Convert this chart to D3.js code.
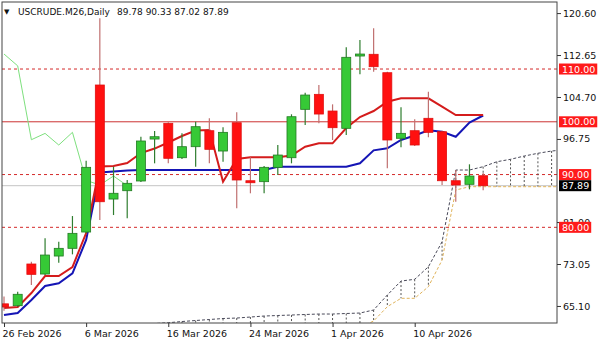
<!DOCTYPE html>
<html>
<head>
<meta charset="utf-8">
<script src="https://cdn.jsdelivr.net/npm/d3@7"></script>
<style>
  body { margin: 0; background: #fff; }
  svg { display: block; font-family: "DejaVu Sans", sans-serif; }
</style>
</head>
<body>
<svg id="chart" width="600" height="343"></svg>
<script>
// datos (velas diarias)
const opens  = [65.5, 65.15, 73.05, 71.15, 74.56, 76.02, 79.11, 106.97, 85.36, 86.94, 88.78, 96.73, 99.71, 93.19, 95.28, 98.31, 94.46, 99.82, 88.83, 88.65, 91.37, 93.19, 102.36, 105.2, 102.04, 98.76, 112.65, 112.79, 109.3, 96.87, 98.31, 100.66, 98.12, 88.83, 88.15, 89.78];
const highs  = [66.9, 67.8, 73.48, 77.92, 77.27, 82.14, 92.62, 119.6, 91.49, 88.97, 97.17, 98.25, 99.9, 97.81, 100.01, 100.66, 98.95, 101.79, 93.27, 91.62, 95.6, 101.42, 105.51, 106.97, 103.31, 114.11, 115.5, 117.71, 109.5, 102.74, 100.47, 105.7, 98.3, 90.86, 91.94, 90.33];
const lows   = [64.2, 64.96, 69.07, 70.96, 73.29, 74.88, 78.86, 81.38, 82.33, 81.71, 88.6, 92.13, 92.13, 92.95, 91.49, 92.13, 92.43, 83.6, 86.45, 86.45, 89.91, 92.13, 99.39, 99.71, 96.55, 97.49, 109.0, 109.49, 91.18, 95.16, 95.41, 97.06, 88.02, 84.85, 87.2, 87.02];
const closes = [64.9, 67.31, 71.09, 74.75, 76.02, 78.86, 91.37, 84.85, 86.45, 88.34, 96.36, 97.17, 93.08, 95.28, 99.07, 94.78, 98.0, 88.97, 88.45, 91.37, 93.7, 100.96, 105.07, 101.47, 98.88, 112.22, 112.84, 110.44, 96.55, 97.81, 95.6, 98.0, 88.83, 88.02, 89.72, 87.89];

// ichimoku: tenkan (rojo), kijun (azul), chikou (verde)
const tenkan = [64.71, 64.9, 67.55, 70.77, 70.77, 72.48, 78.92, 91.52, 91.62, 92.19, 94.08, 94.93, 96.07, 97.3, 98.35, 98.44, 88.64, 92.94, 93.27, 93.27, 93.27, 93.61, 95.28, 95.92, 95.92, 98.82, 100.9, 102.04, 103.8, 104.45, 104.45, 104.45, 102.86, 101.28, 101.28, 101.28];
const kijun  = [63.38, 63.76, 66.22, 68.88, 69.39, 71.28, 77.6, 90.39, 90.58, 90.77, 90.86, 90.86, 90.86, 90.86, 90.86, 90.86, 90.86, 90.86, 90.86, 90.86, 91.49, 91.49, 91.49, 91.49, 91.49, 91.49, 92.13, 94.59, 94.97, 96.55, 97.4, 98.38, 98.12, 97.17, 99.86, 101.19];
const chikou = [112.84, 110.6, 96.6, 97.8, 95.6, 98.0, 88.9, 88.02, 89.72, 87.89];

// nube (desplazada 26 barras), empieza en la barra 9
const spanStart = 9;
const spanA = [61.35, 61.58, 61.77, 61.92, 62.15, 62.34, 62.53, 62.72, 62.81, 63.0, 63.19, 63.29, 63.38, 63.48, 63.57, 63.57, 63.67, 63.76, 64.33, 67.17, 69.82, 70.15, 72.53, 77.27, 90.86, 90.86, 91.49, 92.43, 92.89, 93.51, 94.03, 94.46, 94.7];
const spanB = [58.4, 58.4, 58.6, 58.6, 58.8, 58.8, 59.0, 59.2, 59.2, 59.4, 59.6, 59.8, 60.0, 60.2, 60.4, 60.6, 60.8, 61.0, 62.25, 64.96, 66.55, 66.55, 68.75, 73.8, 87.07, 87.7, 87.7, 87.7, 87.7, 87.7, 87.7, 87.7, 87.7];

const dashedLevels = [110, 90, 80];
const solidLevels = [100];
const lastPrice = 87.89;

const yTickValues = [120.60, 112.65, 104.70, 96.75, 81.00, 73.05, 65.10];
const dateTicks = [0, 6, 12, 18, 24, 30];
const dateLabels = ["26 Feb 2026", "6 Mar 2026", "16 Mar 2026", "24 Mar 2026", "1 Apr 2026", "10 Apr 2026"];

const titulo = "USCRUDE.M26,Daily";
const ohlcTitulo = "89.78 90.33 87.02 87.89";

const bordeIzq = 2, bordeDer = 557, bordeSup = 2, bordeInf = 323;

const svg = d3.select("#chart");

const x = d3.scaleLinear().domain([0, 40]).range([4, 4 + 40 * 13.69]);
const y = d3.scaleLinear().domain([61.87, 122.70]).range([bordeInf, bordeSup]);

svg.append("defs").append("clipPath").attr("id", "zona")
  .append("rect")
  .attr("x", bordeIzq).attr("y", bordeSup)
  .attr("width", bordeDer - bordeIzq).attr("height", bordeInf - bordeSup);

const plot = svg.append("g").attr("clip-path", "url(#zona)");

// niveles horizontales
plot.selectAll(".nivel").data(dashedLevels).join("line")
  .attr("x1", bordeIzq).attr("x2", bordeDer)
  .attr("y1", d => y(d)).attr("y2", d => y(d))
  .attr("stroke", "#d42a2a").attr("stroke-width", 1)
  .attr("stroke-dasharray", "3,3");

plot.selectAll(".solido").data(solidLevels).join("line")
  .attr("x1", bordeIzq).attr("x2", bordeDer)
  .attr("y1", d => y(d)).attr("y2", d => y(d))
  .attr("stroke", "#cc3333").attr("stroke-width", 1);

plot.append("line")
  .attr("x1", bordeIzq).attr("x2", bordeDer)
  .attr("y1", y(lastPrice)).attr("y2", y(lastPrice))
  .attr("stroke", "#c4c4c4").attr("stroke-width", 1);

// nube
const idxSpan = spanA.map((d, i) => i + spanStart);
plot.selectAll(".rayita").data(idxSpan).join("line")
  .attr("x1", d => x(d)).attr("x2", d => x(d))
  .attr("y1", (d, i) => y(spanA[i])).attr("y2", (d, i) => y(spanB[i]))
  .attr("stroke", "#555").attr("stroke-width", 1)
  .attr("stroke-dasharray", "2,2");

const linea = d3.line().x(d => x(d[0])).y(d => y(d[1]));

plot.append("path")
  .attr("d", linea(spanB.map((v, i) => [i + spanStart, v])))
  .attr("fill", "none").attr("stroke", "#e0b35a").attr("stroke-width", 1)
  .attr("stroke-dasharray", "3,2");

plot.append("path")
  .attr("d", linea(spanA.map((v, i) => [i + spanStart, v])))
  .attr("fill", "none").attr("stroke", "#4a4a5a").attr("stroke-width", 1)
  .attr("stroke-dasharray", "3,2");

plot.append("path")
  .attr("d", linea(chikou.map((v, i) => [i, v])))
  .attr("fill", "none").attr("stroke", "#7ee07e").attr("stroke-width", 1);

plot.append("path")
  .attr("d", linea(kijun.map((v, i) => [i, v])))
  .attr("fill", "none").attr("stroke", "#1515b5").attr("stroke-width", 2);

plot.append("path")
  .attr("d", linea(tenkan.map((v, i) => [i, v])))
  .attr("fill", "none").attr("stroke", "#d41c1c").attr("stroke-width", 2);

// velas
const velas = opens.map((o, i) => ({ i, o, h: highs[i], l: lows[i], c: closes[i], sube: closes[i] >= o }));
const ancho = 9;

plot.selectAll(".mecha").data(velas).join("line")
  .attr("x1", d => x(d.i)).attr("x2", d => x(d.i))
  .attr("y1", d => y(d.h)).attr("y2", d => y(d.l))
  .attr("stroke", d => d.sube ? "#2f7d2f" : "#c07070")
  .attr("stroke-width", 1.2);

plot.selectAll(".cuerpo").data(velas).join("rect")
  .attr("x", d => x(d.i) - ancho / 2)
  .attr("y", d => y(Math.max(d.o, d.c)))
  .attr("width", ancho)
  .attr("height", d => Math.max(2, Math.abs(y(d.o) - y(d.c))))
  .attr("fill", d => d.sube ? "#36c936" : "#ff1010")
  .attr("stroke", d => d.sube ? "#237a23" : "#e01010")
  .attr("stroke-width", 0.8);

// marco
svg.append("rect")
  .attr("x", bordeIzq).attr("y", bordeSup)
  .attr("width", bordeDer - bordeIzq).attr("height", bordeInf - bordeSup)
  .attr("fill", "none").attr("stroke", "#444").attr("stroke-width", 1);

// ejes
const ejeY = svg.append("g")
  .attr("transform", `translate(${bordeDer},0)`)
  .call(d3.axisRight(y).tickValues(yTickValues).tickFormat(d3.format(".2f")).tickSize(4).tickSizeOuter(0));
ejeY.select(".domain").remove();
ejeY.selectAll("line").attr("stroke", "#333");
ejeY.selectAll("text").attr("font-size", 9.5).attr("fill", "#111").attr("x", 6).attr("font-family", "DejaVu Sans");

const ejeX = svg.append("g")
  .attr("transform", `translate(0,${bordeInf})`)
  .call(d3.axisBottom(x).tickValues(dateTicks).tickFormat((d, i) => dateLabels[i]).tickSize(4).tickSizeOuter(0));
ejeX.select(".domain").remove();
ejeX.selectAll("line").attr("stroke", "#333");
ejeX.selectAll("text").attr("font-size", 9.5).attr("fill", "#111")
  .attr("text-anchor", "start").attr("dx", -2).attr("y", 7).attr("font-family", "DejaVu Sans");

// etiquetas de niveles a la derecha
const etiquetas = dashedLevels.concat(solidLevels).map(v => ({ v, txt: v.toFixed(2), fondo: "#ff1a1a" }));
etiquetas.push({ v: lastPrice, txt: lastPrice.toFixed(2), fondo: "#000" });

etiquetas.forEach(e => {
  const g = svg.append("g");
  const t = g.append("text")
    .attr("x", 562).attr("y", y(e.v))
    .attr("dominant-baseline", "central")
    .attr("font-size", 9.5).attr("fill", "#fff")
    .text(e.txt);
  const w = t.node().getComputedTextLength();
  g.insert("rect", "text")
    .attr("x", 559).attr("y", y(e.v) - 5.5)
    .attr("width", w + 5).attr("height", 11)
    .attr("fill", e.fondo);
});

// titulo
svg.append("text").attr("x", 4).attr("y", 14).attr("font-size", 7).attr("fill", "#111").text("▼");
svg.append("text").attr("x", 18).attr("y", 14.5).attr("font-size", 9).attr("fill", "#111").text(titulo);
svg.append("text").attr("x", 117).attr("y", 14.5).attr("font-size", 9).attr("fill", "#111").text(ohlcTitulo);
</script>
</body>
</html>
